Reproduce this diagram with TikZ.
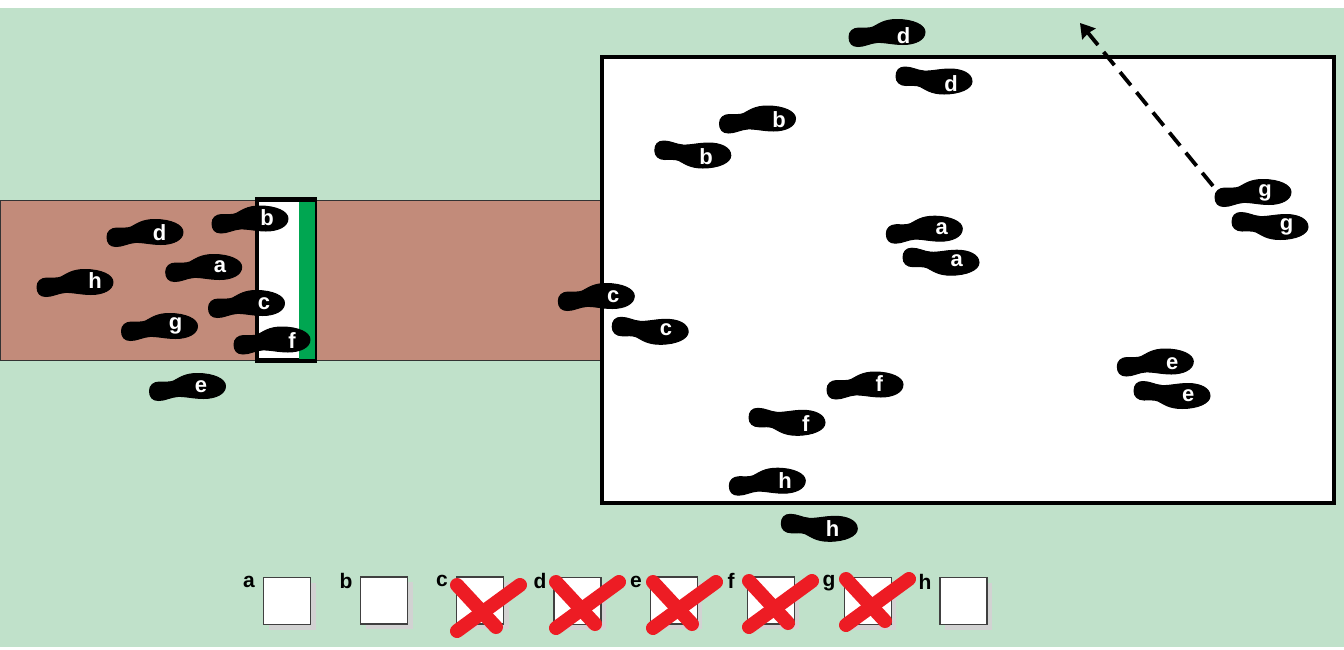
\documentclass[tikz,border=0pt]{standalone}
\usepackage{fontspec}
\setmainfont{Liberation Sans}
\usetikzlibrary{arrows.meta,shadows}
\definecolor{lawn}{RGB}{192,225,202}
\definecolor{passage}{RGB}{194,139,122}
\definecolor{gategreen}{RGB}{0,166,81}
\definecolor{crossred}{RGB}{237,28,36}
\definecolor{boxshadow}{RGB}{210,210,210}
\newcommand{\soleshape}{
    \filldraw[black, line width=1pt, line join=round] (-38,4) .. controls (-38,-1.5) and (-34,-5) .. (-28,-5)
        .. controls (-22,-5) and (-18,-4.5) .. (-14,-6)
        .. controls (-8,-9) and (-3,-13.5) .. (10,-13.5)
        .. controls (26,-13.5) and (38,-8) .. (38,-1)
        .. controls (38,7) and (28,11.5) .. (16,11.5)
        .. controls (6,11.5) and (-3,9) .. (-10,9.5)
        .. controls (-17,10) and (-22,13.5) .. (-29,13.5)
        .. controls (-35,13.5) and (-38,10) .. (-38,4) -- cycle;
}
\tikzset{
    footlbl/.style={inner sep=0pt, text=white, font=\fontsize{22}{22}\selectfont\bfseries},
    footup/.pic={\soleshape},
    footdown/.pic={
        \begin{scope}[yscale=-1]
            \soleshape
        \end{scope}
    }
}

\begin{document}
\begin{tikzpicture}[
    x=1pt, y=-1pt,
    tickbox/.style={rectangle, draw=black!75, line width=1.2pt, fill=white, minimum size=47pt, inner sep=0pt,
        drop shadow={shadow xshift=5pt, shadow yshift=-5pt, fill=boxshadow, opacity=1}},
    ticklbl/.style={inner sep=0pt, font=\fontsize{21}{21}\selectfont\bfseries},
    crossline/.style={crossred, line width=14pt, line cap=round},
    walkline/.style={line width=3.8pt, dash pattern=on 17pt off 9pt, -{Stealth[length=14pt, width=17pt, inset=1pt]}}
]
    \useasboundingbox (0,0) rectangle (1344,649);
    \fill[white] (0,0) rectangle (1344,649);
    \fill[lawn] (0,8) rectangle (1344,647);

    % Passage and room
    \draw[fill=passage, draw=black!80, line width=1pt] (0.5,200) rectangle (602,360);
    \draw[fill=white, line width=3.6pt] (602,57) rectangle (1334,503);

    % Gate
    \draw[fill=white, line width=4.5pt] (256.8,199.5) rectangle (314.5,360.5);
    \fill[gategreen] (299.3,202) rectangle (315,358.5);

    % Footprints before the gate
    \pic (d0) at (145,233) {footup};
    \node[footlbl] (ld0) at (159.7,233) {d};
    \pic (b0) at (250,219.5) {footup};
    \node[footlbl] (lb0) at (267,218) {b};
    \pic (a0) at (203.7,268) {footup};
    \node[footlbl] (la0) at (220,267) {a};
    \pic (h0) at (75,283) {footup};
    \node[footlbl] (lh0) at (95,281) {h};
    \pic (c0) at (246.5,304) {footup};
    \node[footlbl] (lc0) at (264,304) {c};
    \pic (g0) at (159.5,327) {footup};
    \node[footlbl] (lg0) at (175.7,326) {g};
    \pic (f0) at (272,340.5) {footup};
    \node[footlbl] (lf0) at (292,341) {f};
    \pic (e0) at (187.5,387) {footup};
    \node[footlbl] (le0) at (201,387) {e};

    % Footprints at the room
    \pic (d1) at (887,33) {footup};
    \node[footlbl] (ld1) at (903.7,36) {d};
    \pic (d2) at (934,80.5) {footdown};
    \node[footlbl] (ld2) at (951,84) {d};
    \pic (b1) at (757.5,119.5) {footup};
    \node[footlbl] (lb1) at (779,120) {b};
    \pic (b2) at (692.8,154.5) {footdown};
    \node[footlbl] (lb2) at (706,157) {b};
    \pic (g1) at (1253,193) {footup};
    \node[footlbl] (lg1) at (1265,193) {g};
    \pic (g2) at (1270,226) {footdown};
    \node[footlbl] (lg2) at (1286.7,226.7) {g};
    \pic (a1) at (924.3,229.7) {footup};
    \node[footlbl] (la1) at (941.7,229) {a};
    \pic (a2) at (941,261.7) {footdown};
    \node[footlbl] (la2) at (956.7,261) {a};
    \pic (c1) at (596.3,297) {footup};
    \node[footlbl] (lc1) at (613.3,296.7) {c};
    \pic (c2) at (650.2,330.8) {footdown};
    \node[footlbl] (lc2) at (666,330) {c};
    \pic (f1) at (865,385.5) {footup};
    \node[footlbl] (lf1) at (879.3,383.3) {f};
    \pic (f2) at (787,421.8) {footdown};
    \node[footlbl] (lf2) at (805.7,424) {f};
    \pic (e1) at (1155.3,362.5) {footup};
    \node[footlbl] (le1) at (1172.3,364) {e};
    \pic (e2) at (1172,395) {footdown};
    \node[footlbl] (le2) at (1188.3,395.7) {e};
    \pic (h1) at (767.3,481.7) {footup};
    \node[footlbl] (lh1) at (785,481) {h};
    \pic (h2) at (819.3,527.8) {footdown};
    \node[footlbl] (lh2) at (832.7,529) {h};

    % Way out
    \coordinate (walkstart) at (1213,186);
    \coordinate (walkend) at (1080,23);
    \draw[walkline] (walkstart) -- (walkend);

    % Tick boxes
    \node[tickbox] (boxa) at (287,601) {};
    \node[ticklbl] (lbla) at (249,582) {a};
    \node[tickbox] (boxb) at (384,600.5) {};
    \node[ticklbl] (lblb) at (346,581) {b};
    \node[tickbox] (boxc) at (480.3,600.5) {};
    \node[ticklbl] (lblc) at (442,581) {c};
    \node[tickbox] (boxd) at (577.5,601) {};
    \node[ticklbl] (lbld) at (540,581) {d};
    \node[tickbox] (boxe) at (673.7,600.5) {};
    \node[ticklbl] (lble) at (636,582) {e};
    \node[tickbox] (boxf) at (770.8,600.5) {};
    \node[ticklbl] (lblf) at (731,581) {f};
    \node[tickbox] (boxg) at (867.7,601) {};
    \node[ticklbl] (lblg) at (829,583) {g};
    \node[tickbox] (boxh) at (963.5,601) {};
    \node[ticklbl] (lblh) at (925,582) {h};

    % Crosses
    \foreach \cx/\cy in {457/585,556/582,653/582,749/581,846/579}{
        \draw[crossline] (\cx,\cy+46) -- (\cx+63,\cy);
        \draw[crossline] (\cx,\cy) -- (\cx+39,\cy+42);
    }
\end{tikzpicture}
\end{document}
